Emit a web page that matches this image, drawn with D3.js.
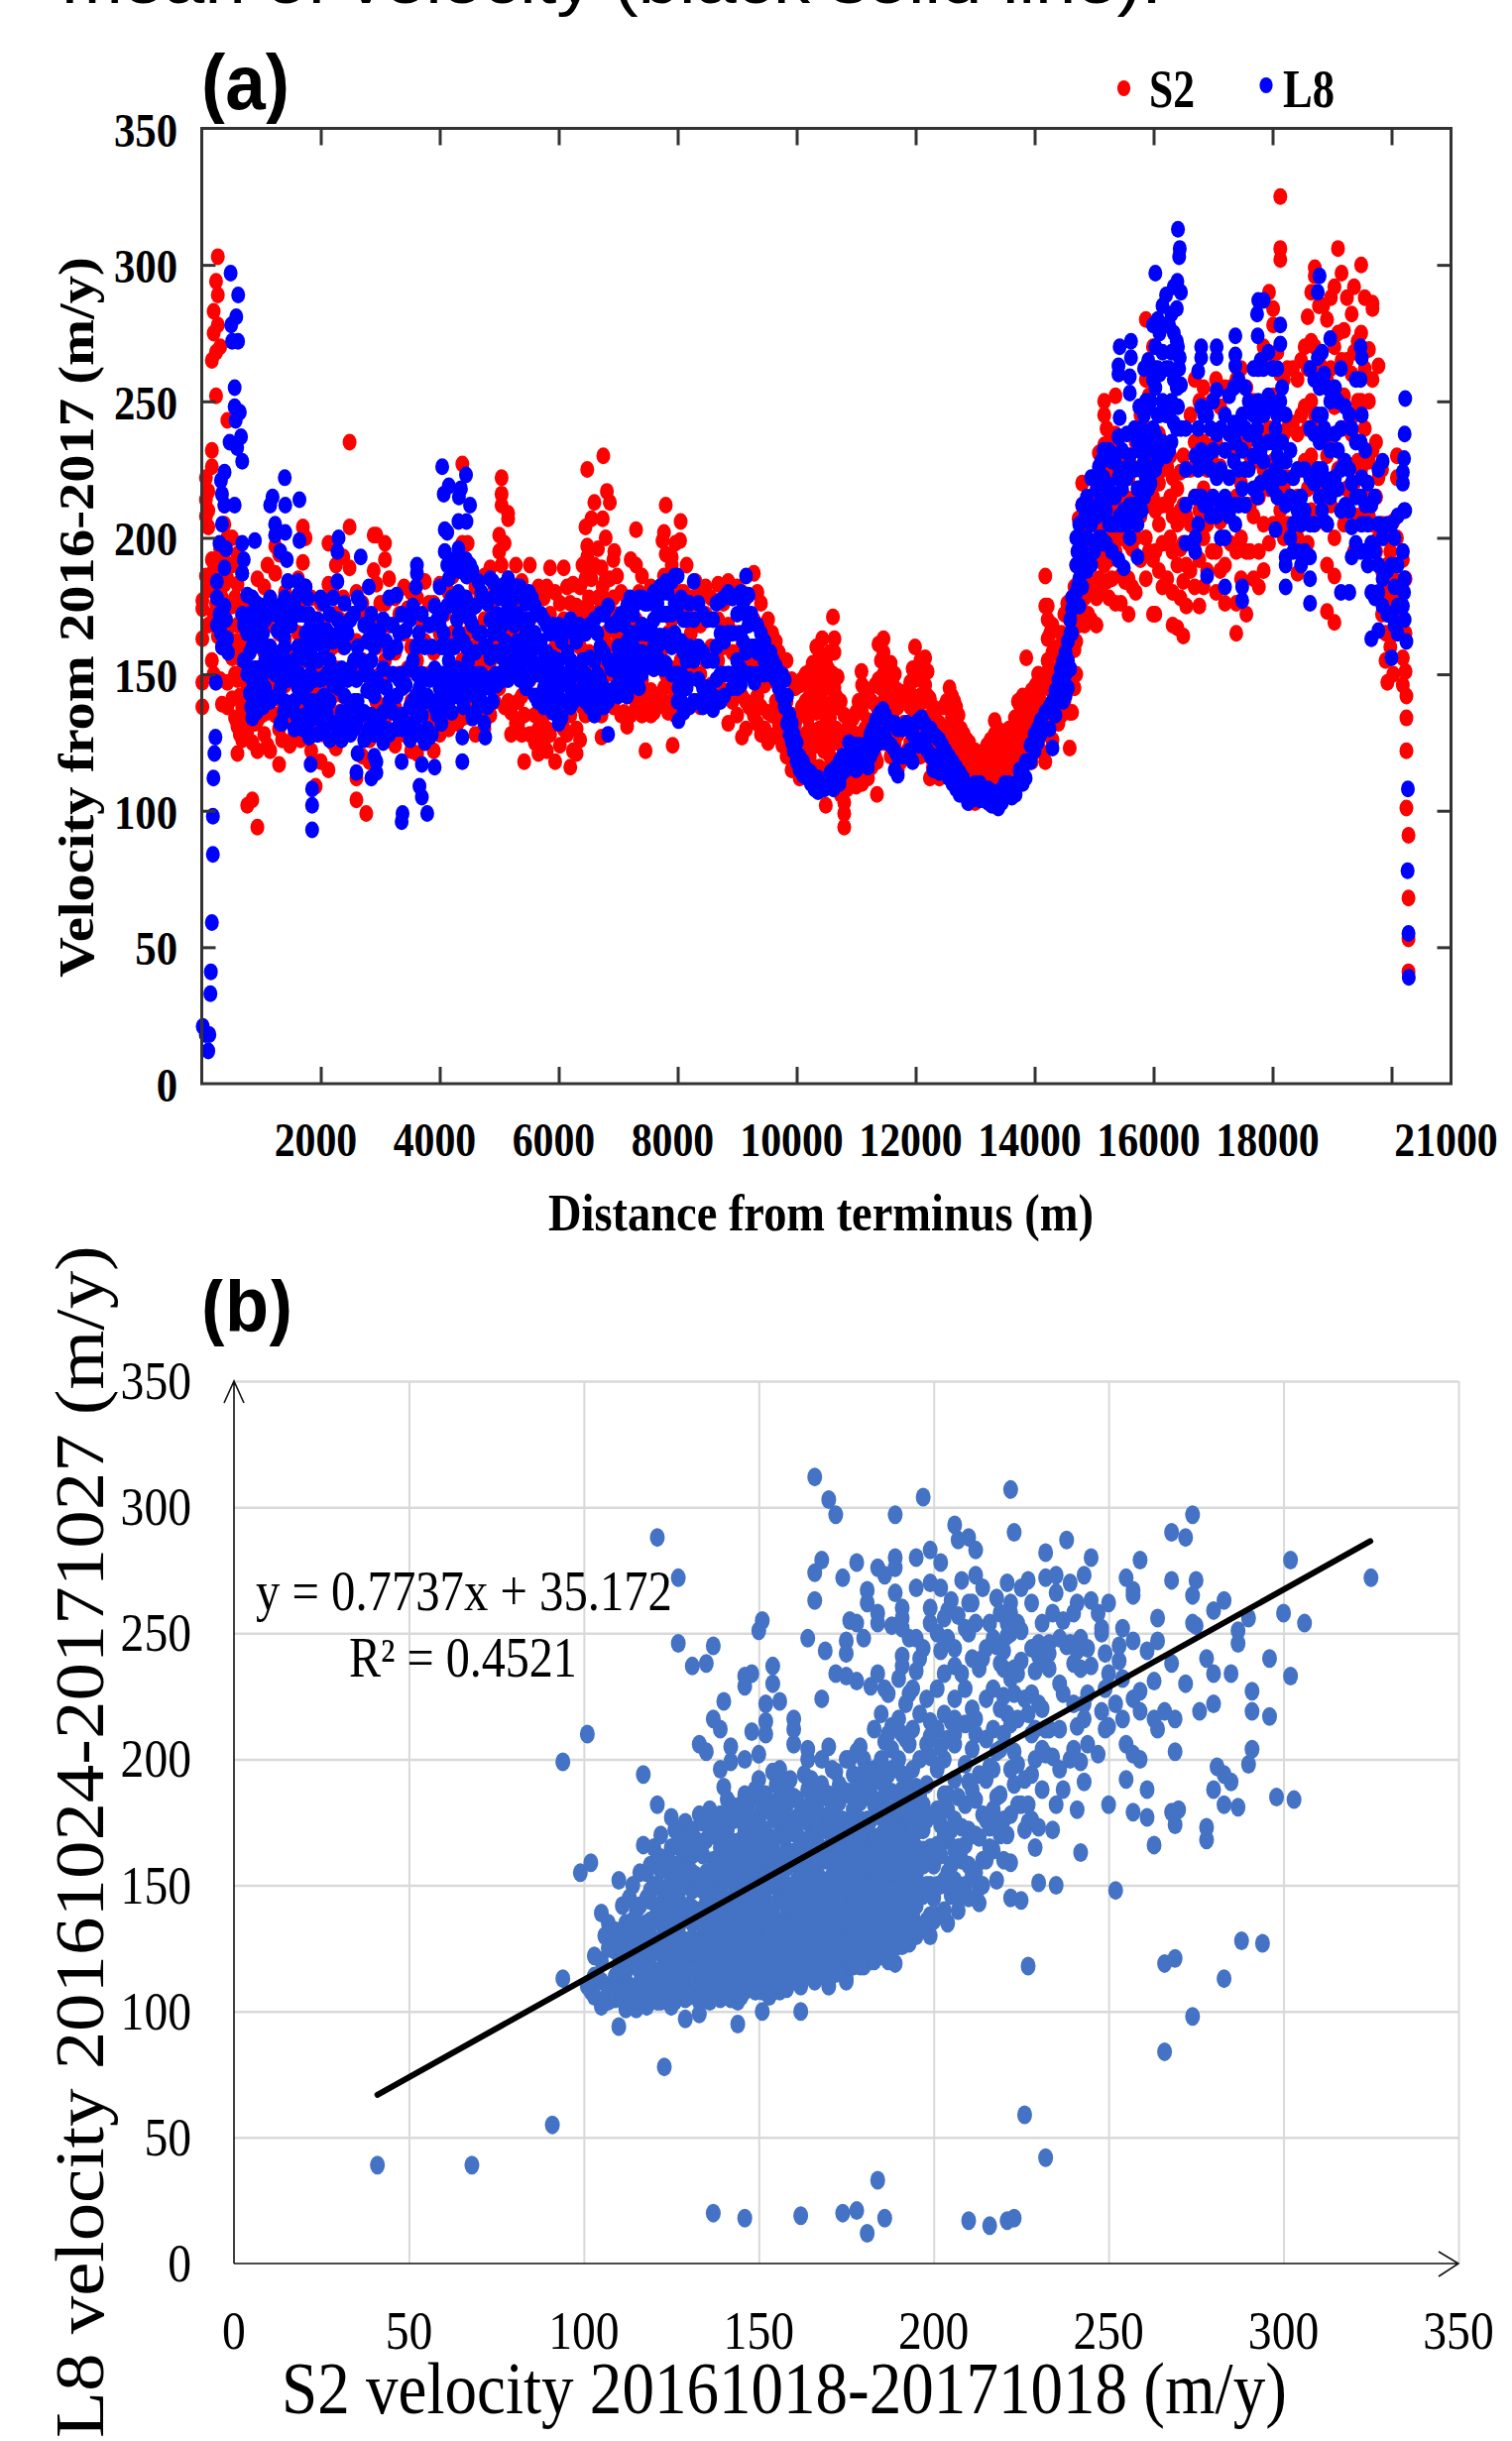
<!DOCTYPE html>
<html>
<head>
<meta charset="utf-8">
<script src="https://cdn.jsdelivr.net/npm/d3@7"></script>
<style>
  html, body { margin: 0; padding: 0; background: #fff; }
  svg { display: block; }
</style>
</head>
<body>
<svg id="chart" width="1525" height="2462"></svg>
<script>
/* --------------- panel (a) data: [distance, velocity, velocity, ...] --------------- */
const s2Columns = [
[10,138,147,163,174,177],[70,222,214,208,186],[110,217,210,204,181,168],[170,232,226,265,192,155],
[200,283,275,188,172,150],[240,294,268,252,176],[270,303,289,278,183,164],[310,270,196,170,148],
[340,193,178,160,139],[430,243,200,185,166,147,138],[510,200,190,175,156,141],[600,194,183,168,148,131,121],
[680,187,172,155,138,126],[765,178,163,146,129,102],[850,176,160,141,125,104],[935,185,170,152,133,122,94],
[1050,182,174,158,142,128],[1105,190,168,150,136,124],[1150,178,160,145,122],[1235,187,197,172,152,135],
[1300,194,165,148,130,117],[1400,180,163,146,133],[1550,176,158,140,127],[1620,185,165,147,130],
[1700,204,191,172,155,137],[1745,200,182,162,145,128],[1840,178,160,140,122],[1915,170,150,130,109],
[2000,176,155,135,118],[2130,198,183,165,147,130,115],[2255,190,172,152,135,123],[2380,193,178,160,142,128],
[2485,235,204,189,170,150,132],[2600,180,162,140,112,104],[2700,176,155,135,120],[2765,172,150,128,99],
[2890,188,201,168,146,130],[2935,201,183,160,140],[3080,198,192,176,155,132],[3150,185,168,150,128],
[3250,178,158,138,124],[3400,182,165,148,128],[3520,180,160,140,122],[3620,178,155,135,121],
[3750,184,162,142,125],[3900,176,158,136,122],[4000,183,165,145,128],[4150,180,160,140,130],
[4300,192,170,150,132],[4380,227,198,178,155,134],[4470,198,186,165,143],[4600,182,160,140,128],
[4750,186,170,150,130],[4850,189,175,155,135],[5000,201,195,182,165,145],[5040,222,216,212,190,170,150],
[5090,198,178,158,138],[5150,209,207,185,165,140],[5280,190,172,150,132],[5320,178,158,140,132],
[5420,176,155,135,118],[5515,190,170,148,128],[5660,182,160,142,130,121],[5750,178,158,135,125],
[5855,189,172,150,128],[5940,180,160,140,118],[6085,189,170,148,130],[6195,176,155,135,116],
[6240,183,165,145,122],[6300,175,152,130,121],[6450,204,185,165,145,135],[6480,225,197,193,175,150],
[6510,190,178,158,140],[6550,207,185,168,145],[6600,213,190,172,150],[6720,189,175,155,135,127],
[6740,207,182,160,140],[6750,230,178,150],[6790,200,185,165,140],[6810,217,176,150],[6860,213,185,160,142],
[6920,192,178,155,138],[6935,195,172,150],[7050,180,165,148,135],[7150,178,160,142,131],[7210,192,172,150,135],
[7300,203,190,170,150,138],[7400,186,168,148,135],[7460,178,155,140,122],[7550,182,162,144,135],
[7660,180,160,142,138],[7745,199,180,155,140],[7770,202,186,160,145],[7800,212,194,172,150],
[7900,193,190,170,152,140],[7915,185,165,145,124],[7960,198,175,150,135],[8040,199,180,160,142],
[8050,206,176,155],[8150,190,172,150,138],[8300,184,176,160,140],[8470,182,172,155,142],[8680,183,170,155,140],
[8850,184,168,150,132],[9000,182,165,148,135],[9080,180,160,142,127],[9150,178,158,140,130],[9280,187,170,152,135],
[9400,176,155,138,128],[9520,170,150,136,125],[9590,165,148,135,127],[9700,158,145,132],[9830,155,140,128,120],
[9915,148,135,125,115],[9975,145,132,115],[10050,146,135,122,112],[10150,150,140,128,118],[10220,151,142,130,120],
[10330,160,148,136,124,112],[10430,163,152,140,128,110],[10490,155,145,132,115,102],[10560,158,146,134,120],
[10610,171,150,140,125],[10635,163,158,145,130],[10690,149,138,125,112],[10800,135,128,118,103,99,94],
[10900,132,125,118,112],[11000,136,128,118,109],[11090,151,140,128,115],[11100,146,136,125,110],
[11200,142,133,122,112],[11350,138,125,118,106],[11375,161,148,135],[11417,155,145,132],[11460,163,158,150,140,125],
[11580,154,146,135,120],[11650,150,140,125],[11700,144,138,128,115],[11800,140,132,120],[11910,147,138,125],
[11990,160,148,136,125],[12080,155,142,132,120],[12160,156,146,134,122],[12200,151,142,130],[12240,141,132,120,112],
[12330,136,128,118],[12400,132,122,112],[12470,138,128,118],[12570,145,138,128,118],[12650,140,132,122],
[12720,135,125,116],[12810,128,120,112],[12900,125,118,110,103],[13000,122,115,108,103],[13100,120,113,106],
[13200,124,116,110],[13330,133,128,120,112],[13420,128,122,114],[13520,128,120,114],[13620,130,122,116],
[13720,140,134,126,118],[13800,142,135,126],[13860,156,140,130,120],[13950,144,135,126,118],[14020,146,138,128],
[14100,146,140,130,122],[14180,186,175,150,135,118],[14220,175,170,163,155,145,130],[14300,168,158,148,136,126],
[14400,160,152,142,132],[14500,172,160,150,140],[14590,170,158,148,136,123],[14630,178,165,147,136],
[14670,182,175,159,145],[14740,207,195,180,168],[14800,220,212,198,185,172],[14840,200,190,178,168],
[14950,205,195,182,170],[15040,218,205,192,178,168],[15080,231,215,200,185],[15170,250,245,234,218,205,190],
[15250,235,222,208,192,178],[15360,252,238,225,210,195,176],[15450,228,215,200,186,176],[15580,222,210,198,185,172],
[15700,235,215,200,180],[15870,280,258,240,220,200,185],[15990,270,235,215,192,172],[16030,262,230,210,195,172],
[16150,225,212,198,182],[16320,222,208,195,180,168],[16400,218,205,190,167],[16500,230,212,198,184,164],
[16550,225,208,190,175],[16690,258,235,215,198,182],[16770,250,228,210,192,175],[16900,245,225,205,188],
[17050,258,235,212,195,180],[17200,255,232,210,190,176],[17390,258,235,215,195,176,165],[17560,255,235,212,195,172],
[17680,250,228,208,185],[17770,262,238,215,195,182],[17940,290,265,240,218,198],[18010,284,278,252,228,205],
[18130,325,306,302,260,235,210],[18250,262,240,222,205],[18420,258,238,215,200,187],[18480,265,245,225,205],
[18590,281,262,240,218,198],[18710,299,296,270,245,225,205],[18850,285,262,240,222],[18915,280,258,230,205,190,173],
[19040,292,270,248,222,200,186,169],[19100,306,275,250,225],[19160,297,265,240,210],[19200,276,252,228,205],
[19330,282,260,238,215],[19370,292,268,245,220,195],[19490,300,275,250,225,205],[19620,269,250,228,208],
[19680,286,284,258,232,205],[19740,235,215,195],[19780,263,222,200],[19900,200,180,165,155],[19930,190,172,147],
[20030,206,185,165,150],[20090,230,222,200,178],[20190,192,170,156,146],[20235,185,165,151],[20250,142,134,122,101],
[20285,91,68,53,41]
];

// second pass over the solid parts of the red cloud
const s2Dense = [
[380,212,205,192,183],[560,178,162,150,134],[640,176,160,142,128],[730,165,150,134],[900,168,148,132],[1010,165,150,135],
[1350,172,155,140,126],[1480,170,150,136,124],[1660,176,156,138,126],[1880,165,145,128,118],[2060,168,148,128],
[2200,180,160,142,125],[2320,170,150,136],[2550,172,152,130],[2820,166,145,126,118],[3000,176,150,134],[3320,172,150,130],
[3460,174,152,132],[3680,170,148,128],[3820,176,150,132],[4080,172,150,134],[4220,186,165,142],[4540,174,152,134],
[4680,178,155,135],[4920,182,160,140],[5200,180,158,136,128],[5380,184,165,142,128],[5600,176,150,135,125],
[5800,182,155,130,122],[6020,176,150,132,124],[6140,182,160,128],[6360,182,160,140,126],[6400,190,172,150,138],
[6660,196,178,158,136],[6980,186,165,145],[7100,172,152,136],[7350,180,160,142],[7600,176,152,136],[7840,186,165,148,136],
[8100,180,160,146],[8220,178,165,150],[8380,180,168,150,138],[8560,178,160,146],[8770,176,160,144],[8920,178,158,140],
[9200,172,155,138],[9340,180,160,142,132],[9460,165,146,130],[9650,162,140,128],[9760,150,136,124],
[10090,148,138,126,116],[10190,146,134,122],[10270,154,138,126,116],[10380,158,144,130,116],[10460,150,136,122],
[10530,152,138,126,112],[10660,142,130,118],[10740,140,128,114,106],[10850,130,120,108],[10950,134,122,114],
[11040,140,126,112],[11150,144,130,118],[11260,140,128,116],[11320,146,130,120],[11520,150,142,128],[11620,146,136,122],
[11750,142,130,118],[11860,144,132,122],[11950,152,142,130],[12040,150,138,126],[12120,152,140,128],[12290,138,126,116],
[12520,140,130,120],[12610,142,134,124],[12680,138,128,118],[12760,130,122,114],[12860,126,116,108],[12950,120,112,106],
[13050,118,110],[13150,122,114,108],[13260,126,118,110],[13380,130,122,114],[13470,126,118],[13570,130,122,116],
[13670,134,126,118],[13760,138,130,122],[13900,142,134,124],[14060,150,142,132,124],[14140,148,138,128],[14260,165,150,138],
[14350,158,146,136],[14450,165,155,145,135],[14550,176,162,150],[14700,190,176,162,150],[14780,205,190,175],
[14900,212,198,184,172],[15000,208,195,182],[15120,222,208,195,180],[15210,240,226,212,198,184],[15300,232,215,200,185],
[15400,236,222,208,192],[15520,230,215,200,184],[15640,226,212,196,182],[15780,245,225,208,192],[15920,252,230,212,195],
[16090,238,220,205,188],[16230,226,212,198,185],[16280,230,215,200],[16450,224,210,196,178],[16620,245,225,205,188],
[16840,255,235,218,200,182],[16980,250,230,212,195],[17120,248,226,206,188],[17290,255,232,212,198],[17470,262,240,220,200,185],
[17620,248,230,212,195],[17850,270,245,225,205,188],[18080,268,245,225,205],[18190,258,238,218,200],[18340,262,242,222,205],
[18540,270,248,228,208],[18650,290,272,250,230,210],[18780,285,265,240,218],[18980,288,262,235,212],[19250,288,265,240,218],
[19430,272,250,228,208],[19550,288,262,240,215],[19840,225,205,188,172],[19980,195,178,160]
];

const l8Columns = [
[17,21],[68,18],[110,12],[128,18],[145,33],[153,41],[170,59],[187,84,98],[196,112],[213,121],[230,127],
[238,147],[255,168,178,184],[298,198,172],[323,221,165],[340,216,205,160],[383,224,212,189,175],[408,196,170],
[425,163],[442,158],[468,235],[485,297],[495,278],[510,272],[553,255,248,212],[570,243],[580,281],[595,233],
[610,272],[612,289],[640,246],[660,237],[680,228,198,187,172],[706,192,168,155],[765,179,165,150],
[808,172,158,143],[850,178,160,148,134],[893,199,170,152,140],[960,168,152,140],[1000,175,160,146],
[1064,170,155,145],[1150,212,178,160,140],[1190,215,175,155],[1233,205,201,172,150],[1320,195,175,158,145,132],
[1345,170,152,132],[1395,222,178,160,140],[1404,212,202,175,155],[1430,192,170,150],[1447,184,168,148],
[1557,175,155,140,130],[1617,184,179,160,145],[1642,214,199,172,150],[1745,182,165,148,135],[1804,172,155,140,127],
[1830,168,150,135,117],[1855,108,102,93,160,140],[1950,170,155,140,128],[2050,176,160,142,130],[2150,172,155,140,126],
[2280,195,184,170,150,132],[2300,200,165,145,128],[2400,176,160,142,130],[2500,170,152,138,128],
[2600,114,148,132],[2620,178,160,140,121],[2672,193,176,155,135],[2808,182,168,150,130],[2850,172,155,135,112],
[2935,165,148,130,118,114],[3050,170,152,136,125],[3150,178,158,140,128],[3276,179,160,142,130],
[3360,172,150,135,118,96],[3375,99,145,130],[3500,170,152,138,126],[3600,182,160,142,130],[3617,190,187,150,135],
[3660,109,145],[3700,172,150,135,117,105],[3790,99,142,130],[3830,168,148,127],[3915,175,152,138,116],
[4000,182,168,145,135],[4042,226,172,150],[4068,216,165,145],[4085,203,195,160,140],[4127,202,190,175,150],
[4153,219,185,155,140],[4250,192,175,160,148],[4315,206,196,180,150],[4323,215,188,165,145],[4357,218,190,172,148],
[4380,127,118],[4442,223,192,178,152],[4450,206,186,160,142],[4510,212,190,170,150],[4550,188,168,150,134],
[4650,184,165,150,140],[4750,178,160,145,132],[4765,127],[4893,184,165,148,140],[4936,179,170,150],[5000,178,165,150],
[5150,185,175,160,148],[5250,178,168,155,150],[5350,182,170,158,148],[5450,176,165,155,145],[5550,178,165,155],
[5650,172,160,150,140],[5750,170,155,145,138],[5850,165,152,142],[6000,168,155,145,132],[6100,166,150,140],
[6200,170,155,145,138],[6350,168,152,142],[6450,165,150,140],[6600,170,155,143,135],[6700,172,160,148,140],
[6830,175,155,140,128],[6950,168,155,145],[7050,172,158,148],[7150,175,162,150,142],[7250,172,160,150],
[7350,178,165,155,145],[7450,176,165,155],[7550,178,168,158],[7660,176,172,160],[7750,180,172,162,152],
[7830,180,172,162],[7950,186,176,165,150],[8000,186,175,150,140],[8015,133,145],[8150,170,155,145],
[8270,184,170,155,140],[8425,172,158,145,138],[8595,170,155,142,137],[8720,177,165,150,140],[8850,180,165,150],
[9000,172,155,145],[9150,186,172,158],[9190,179,168,150],[9290,160,147],[9400,165,158,150],[9520,158,152],
[9600,155,150],[9700,150,145],[9800,148,138],[9880,135,128],[9950,128,122],[10050,120,115],[10180,115,112],
[10300,112,108],[10420,110,108],[10520,112,110],[10620,115,112,108],[10720,118,112,110],[10820,120,115],
[10880,125,118],[11000,124,120,115],[11100,122,118],[11200,125,116],[11280,130,122],[11380,135,125],[11450,137,128],
[11530,133,125],[11650,132,122,115],[11700,130,120,113],[11780,130,120],[11900,130,122],[11950,128,118],
[12000,132,125],[12100,134,126],[12200,130,122],[12300,128,120,115],[12400,126,118,114],[12500,122,115],
[12620,118,110],[12800,112,106],[12880,108,103],[13000,110,105],[13150,108,104],[13280,107,102],[13390,103,101],
[13500,110,105],[13620,105,108],[13750,112,115],[13850,118,112],[14000,128,122],[14100,133,128],[14250,138,130],
[14300,140,123],[14400,148,142],[14480,155,150,140],[14560,162,155,145],[14600,170,165,152],[14630,178,174,165],
[14700,200,190,180],[14750,205,195,185,175],[14800,212,195,182],[14880,215,200,188],[14950,222,205,190],
[15050,218,208,198],[15120,228,215,200],[15200,232,220,210,198],[15300,228,215,205,195],
[15410,263,260,237,222,205,192],[15430,270,244,225,208],[15500,225,210,189],[15600,253,259,230,212,200],
[15620,272,266,225,208],[15730,235,218,193,205],[15800,240,225,210],[15870,250,235,222],[15950,262,250,235,220],
[16030,297,270,255,238,225],[16100,275,260,245,232],[16210,289,278,262,245,230],[16300,282,268,250,235],
[16390,284,272,255,240],[16410,313,270,248],[16430,303,262],[16440,306,266],[16400,294,255],[16460,290,256,240],
[16540,240,212,198,225],[16700,230,215,200,195],[16750,261,240,225,205],[16800,270,266,248,232,215],
[16900,245,230,212,186],[17060,270,266,254,238,222,208],[17200,245,232,215,200,182],[17350,255,242,228,212],
[17375,274,267,263,235,205],[17490,245,232,218,182,177],[17600,250,238,225],[17750,274,262,245,230,215],
[17760,287,250,235],[17850,287,262,245,228],[17740,282,240],[18000,262,248,235,218],[18130,278,271,250,235,222],
[18050,203,240,225],[18220,245,228,212,193,190,182],[18350,222,205,195],[18420,225,210,195],[18480,215,205,190],
[18630,262,240,222,205,193,185,176],[18760,290,266,245,225],[18790,296,255,235,215],[18870,260,240,222,206],
[18970,273,250,232,215],[19050,255,238,222],[19150,262,240,225,210,180],[19290,245,225,210,180],[19330,240,220,204,193],
[19480,270,258,235,215,195],[19500,266,245,222,205],[19600,220,205,190],[19660,212,198,180,163],
[19780,225,205,190,180,166],[19850,228,200,185,175],[20000,205,190,172,156],[20100,208,190,175,165],
[20190,224,220,195,175],[20210,229,210,180],[20220,238,185,170],[20230,251,210],[20250,162],[20275,108],[20270,78],
[20285,55],[20290,39]
];

// second pass over the solid blue band
const l8Dense = [
[830,166,152,138],[920,176,162,146,136],[1030,165,150,138],[1110,172,152,142],[1270,166,154,142],[1380,164,148,136],
[1500,168,150,138],[1590,172,150,135],[1700,172,156,142,130],[1780,178,160,146,132],[1900,164,148,134],[2000,178,165,148,135],
[2100,166,150,136],[2210,178,162,146,132],[2350,168,152,136,126],[2450,165,148,134],[2560,172,155,140,130],[2730,168,150,136,126],
[2780,162,144,128],[2900,160,142,128,120],[2990,166,146,132],[3100,162,145,130],[3210,168,150,136],[3320,165,148,132],
[3430,166,146,132],[3550,175,155,140,130],[3650,165,140,128],[3750,160,140,125],[3870,160,140,128],[3960,170,150,135],
[4030,160,142,132],[4200,178,160,146,136],[4290,170,152,142],[4400,178,162,146,138],[4480,175,155,145],[4600,175,158,145,136],
[4700,180,165,150,140],[4800,176,160,148,138],[4850,185,170,156,145],[4960,172,158,146],[5050,180,168,156,148],[5100,183,172,162,152],
[5200,180,170,160,150],[5300,182,172,162,152],[5400,180,170,160,150],[5500,180,170,160,148],[5600,175,165,152,142],
[5700,172,162,150,140],[5800,168,158,148,138],[5900,168,156,146,136],[5950,165,150,138],[6050,162,150,140,134],[6150,168,158,146],
[6250,165,152,140],[6300,162,150,142],[6400,165,155,145],[6520,168,156,146,138],[6650,165,150,140],[6760,172,158,145,138],
[6880,168,152,142],[7000,170,160,150,142],[7100,168,155,146],[7200,178,165,155,146],[7300,176,165,155,148],[7400,178,168,158,150],
[7500,176,165,155],[7600,180,170,160,152],[7700,182,172,164,155],[7800,184,172,164,154],[7900,184,172,160,150],[8060,178,162,150,140],
[8100,170,158,146,136],[8200,176,160,148,138],[8350,176,160,148,140],[8500,170,155,145,140],[8650,176,160,148,140],[8780,178,162,150,142],
[8920,178,165,150,145],[9060,180,165,152,146],[9100,176,162,150],[9240,172,160,150],[9340,168,158,150],[9460,162,155,150],
[9560,158,150],[9650,153,148],[9750,150,142],[9840,142,132],[9920,132,125],[10000,125,118],[10110,118,113],[10240,114,110],
[10360,112,107],[10470,110,108],[10570,114,110],[10670,116,110],[10770,120,114],[10930,124,116],[11050,124,117],[11150,124,118],
[11240,128,120],[11330,133,124],[11410,136,128],[11490,135,127],[11590,132,124],[11850,132,120],[12050,133,124],[12150,132,124],
[12250,130,120],[12350,127,118],[12450,124,116],[12560,120,112],[12680,116,108],[12740,114,106],[12940,108,104],[13080,110,104],
[13220,108,103],[13330,106,102],[13450,108,103],[13560,110,106],[13680,110,106],[13800,115,110],[13930,124,118],[14050,130,125],
[14180,136,130],[14350,144,135],[14440,152,145],[14520,158,150,142],[14720,195,182],[14850,208,192],[15000,222,210,195],
[15080,226,212,200],[15160,232,222,210,198],[15250,232,218,205],[15350,228,215,205],[15470,232,218,205],[15550,238,222,205],
[15680,240,225,212],[15760,248,232,218],[15840,262,245,228,215],[15910,265,248,232,218],[15990,278,258,240,225],[16070,280,262,245,228],
[16150,285,268,250,235],[16260,278,262,245,232],[16340,292,275,258,242],[16850,245,228,212],[16960,240,225,208],[17000,250,232,215],
[17130,240,225,212,200],[17270,252,238,222,208],[17430,258,240,225,212],[17540,255,240,225,212],[17680,262,245,230,218],[17800,265,248,232,220],
[17930,268,252,235,222],[18080,262,245,230,215],[18160,255,235,222],[18300,232,215,200],[18540,225,210,195],[18700,258,238,220,205],
[18830,268,245,225,210],[18920,255,238,220,205],[19100,250,232,218],[19220,248,228,212],[19400,258,235,215,198],[19560,232,212,195],
[19720,215,195,178],[19930,205,188,172],[20050,200,182,168]
];

/* --------------- panel (b) data: [S2 velocity, L8 velocity, L8 velocity, ...] --------------- */
const pairColumns = [
[41,39],[68,39],[91,55],[94,113,199],[99,155],[101,210,110],[102,159,108],[105,102,139,112,120],[106,130,105],
[110,152,94,108,118,128],[112,101,112,122,135],[115,140,101,110,120,130],[117,166,194,103,114,125],
[118,145,155,102,120,135],[121,288,182,160,150,140,128,116,104],[123,78,146,135,122,110],
[125,177,165,152,138,125,112,102],[127,272,246,170,158,146,132,120,108],[129,175,160,150,97,138,128,115,105],
[131,237,172,162,148,135,122,110],[133,99,206,178,165,152,140,128,115,104],[135,238,203,168,155,143,130,118,108],
[137,245,216,20,176,160,148,135,122,110],[139,212,196,178,165,152,140,128,115,105],[140,223,189,170,158,145,132,120,108],
[142,205,199,182,165,152,140,128,115,105],[144,95,178,165,152,140,128,115,104],[146,233,229,200,18,186,172,160,146,134,120,108],
[148,211,184,170,158,145,132,120,110,234],[150,251,202,192,176,164,150,138,125,112],[151,255,100,182,170,158,145,132,120,108],
[152,222,215,210,186,172,160,148,135,122,110],[154,237,230,195,178,165,152,140,128,115,108],[156,223,196,182,170,158,146,134,122,113,108],
[158,190,176,164,150,138,126,114,109],[160,216,212,206,185,172,160,148,136,124,114],[162,100,110,178,165,152,140,128,118,19],
[164,248,204,200,188,175,162,150,138,126,115],[166,312,274,263,182,170,158,146,134,122,112],[168,279,224,200,190,176,164,150,138,126,116],
[169,243,185,172,160,148,136,124,116],[170,303,205,178,165,152,140,128,116,110],[172,297,234,195,182,170,158,146,134,122,115],
[174,272,20,188,176,164,150,138,126,118],[175,247,242,233,200,170,158,146,134,122,113,112],[176,255,187,200,164,152,140,128,118],
[178,278,254,231,203,183,170,158,146,134,122,21],[180,248,200,195,185,172,160,148,136,124,118],[181,267,262,12,176,164,152,140,128],
[182,229,186,170,158,146,134,122,120],[184,276,258,254,234,33,196,178,165,152,140,128,124],[186,273,228,207,190,172,160,148,136,126,18],
[188,253,204,213,196,176,164,152,140,128],[189,280,276,297,266,180,168,156,144,132,119],[191,260,256,252,241,237,210,188,174,162,150,138,126],
[193,248,226,206,182,170,158,146,134,127],[195,280,268,248,235,189,165,178,154,142,130],[197,304,244,182,164,172,158,146,134],
[199,283,270,254,260,215,209,201,165,150,138,130],[200,158,178,145,136],[202,278,268,243,205,174,162,150,138],
[204,259,248,208,186,180,168,155,135],[205,263,215,172,158,146],[206,293,237,216,210,152,164],[207,287,257,185,165,145,140],
[208,271,234,173,160,148],[210,262,288,250,191,17,172,158,145],[212,283,273,254,216,210,184,170,155],[213,236,194,169,149,143],
[214,268,240,178,160,150],[216,254,197,173,15,165],[218,264,245,203,185,176,152],[220,243,236,225,210,176,160],
[221,270,254,218,249,17,170],[222,307,262,258,159,145],[223,290,236,226,190,203,18],[225,268,251,239,182,144],
[226,59,224,192,172],[227,118,271,218,182,175],[229,235,212,200,165],[230,222,246,241,173,151],[232,282,272,42,202,212],
[233,246,242,236,212],[234,258,172,201],[235,273,266,182,150],[237,255,226,188],[238,287,245],[239,270,246,200],
[241,262,243,213,180],[242,248,236,199,163],[243,273,222,216,191],[245,263,237,280],[247,258,202],[248,252,219,250],
[250,262,234,213,182],[252,148,222],[253,239,245],[255,272,206,192],[257,267,265,247,224,202,179],[259,279,227,219,200],
[261,243,188,177],[263,216,231,166],[264,256,247,212],[266,119,84,219],[268,290,238,179,271],[269,121,174,203,216],
[270,180],[272,288,230],[274,297,265,254,98],[275,253,271],[276,219],[278,240,173,168],[280,234,222,259,188],[281,197],
[283,263,194,182,113],[285,234,191],[287,251,246,181],[288,128],[290,256,198],[291,227,219,204],[294,127],[296,240,217],
[298,185],[300,258],[302,279,233],[303,184],[306,254],[325,272]
];

// second pass over the solid core of the scatter, offset from the first
const pairDense = [
[103,106,114,122],[107,110,125,135,104],[109,105,114,124,132],[111,106,116,128,142],[113,104,118,132,145],[114,108,124,136,150],
[116,106,116,128,142,155],[119,108,118,130,144,158],[120,106,124,136,150,165],[122,104,116,128,142,156,170],[124,106,118,130,144,160],
[126,104,116,130,144,158,172],[128,110,122,136,150,164],[130,106,116,128,142,156,170],[132,112,124,138,154,168],[134,108,120,134,148,162,175],
[136,104,114,126,140,154,170,180],[138,110,122,134,146,160,174],[141,106,118,130,142,156,172,184],[143,110,122,134,146,160,176],
[145,106,116,128,140,154,168,182],[147,112,126,138,152,166,178],[149,108,116,128,142,156,172,188],[153,106,118,130,142,154,168,182],
[155,112,124,136,150,162,176,190],[157,110,120,132,144,156,170,186],[159,112,122,134,146,160,174,192],[161,112,122,134,146,158,170,184],
[163,114,124,136,148,162,176,194],[165,114,128,140,154,166,178,192],[167,114,124,136,148,160,172,186],[171,118,130,142,154,168,180,196],
[173,116,128,140,152,164,176,190],[177,118,130,142,156,168,180,194],[179,118,128,140,152,164,176,190,205],[183,120,132,144,156,168,182,196,212],
[185,122,134,146,158,170,184,200,218],[187,120,130,142,154,166,180,194,210,226],[190,126,136,148,160,172,186,200,216,232],[192,128,142,154,166,178,192,208,222],
[194,132,144,156,168,180,196,212,228],[196,134,148,160,172,186,200,218,240],[198,136,150,162,176,190,206,224],[201,138,150,166,180,196,212,228,250],
[203,140,152,170,186,200,218,234,256],[206,148,160,176,192,206,224,244],[209,150,166,182,198,214,228,252],[211,154,170,188,204,220,240,262],
[215,160,176,192,208,224,244],[217,164,180,196,212,228,248],[219,170,186,204,220,238,258],[222,178,196,214,232,250],[224,182,198,216,234,254],
[228,176,194,210,226,244,262],[231,188,204,220,238,254],[236,196,212,230,248],[240,204,222,238,258],[244,206,226,244],[249,212,228,242],[254,216,232,252]
];

// third pass, only the part of the cloud that shows as one solid patch
const pairCore = [
[112,108,116,126],[116,111,122,134],[119,113,124,136,148],[122,112,123,135,149,161],[125,108,119,131,145,158],[128,113,127,141,155,168],
[131,116,129,141,155,167],[134,113,125,139,153,167],[137,115,128,142,156,170],[140,113,125,138,151,164,176],[143,116,128,140,153,167,180],
[146,113,125,139,153,166,178],[149,113,123,135,149,163,177],[152,115,127,141,153,167,180],[155,117,130,143,156,169,183],[158,117,131,144,157,170,182],
[161,117,128,140,152,164,177],[164,119,132,144,156,168,181],[167,119,130,142,154,166,179],[170,122,134,146,160,173,186],[173,122,134,146,158,170,183],
[176,123,135,149,161,174,186],[179,123,134,146,158,170,183],[182,126,138,150,162,176,190],[185,127,140,152,164,177,191],[188,124,136,148,160,172,187],
[191,132,144,156,168,180,194],[194,138,150,162,174,188]
];

const distTicks = [2000, 4000, 6000, 8000, 10000, 12000, 14000, 16000, 18000, 20000];
const distLabels = [2000, 4000, 6000, 8000, 10000, 12000, 14000, 16000, 18000, 21000];
const velTicks = [0, 50, 100, 150, 200, 250, 300, 350];
const fitLine = [[41, 66.9], [324.8, 286.5]];
const legendItems = [["S2", "#ff0000"], ["L8", "#0000ff"]];

const serif = "'Liberation Serif', 'Times New Roman', serif";
const sans = "'Liberation Sans', Arial, sans-serif";

const svg = d3.select("#chart");
const defs = svg.append("defs");

// the reference was stretched, so every text is squeezed to the width it has there
function label(txt, o) {
    const t = svg.append("text")
        .attr("font-family", o.family || serif)
        .attr("font-weight", o.weight || "normal")
        .attr("font-size", o.size)
        .attr("fill", "#000")
        .text(txt);
    const len = t.node().getComputedTextLength();
    const sx = o.width ? o.width / len : (o.sx || 1);
    const anchorShift = o.anchor === "end" ? -len * sx : o.anchor === "middle" ? -len * sx / 2 : 0;
    const rot = o.rotate ? ` rotate(${o.rotate})` : "";
    t.attr("transform", `translate(${o.x},${o.y})${rot} translate(${anchorShift},0) scale(${sx},1)`);
    return t;
}

function flatten(cols) {
    return cols.flatMap(([x, ...ys]) => ys.map(y => ({ x, y })));
}

/* --------------- panel (a) --------------- */
const xA = d3.scaleLinear().domain([0, 21000]).range([203.5, 1463.5]);
const yA = d3.scaleLinear().domain([0, 350]).range([1093, 129.5]);

const panelA = svg.append("g");

panelA.selectAll(".s2").data(flatten(s2Columns.concat(s2Dense))).enter().append("ellipse")
    .attr("class", "s2")
    .attr("cx", d => xA(d.x)).attr("cy", d => yA(d.y))
    .attr("rx", 7).attr("ry", 8.5)
    .attr("fill", "#ff0000");

panelA.selectAll(".l8").data(flatten(l8Columns.concat(l8Dense))).enter().append("ellipse")
    .attr("class", "l8")
    .attr("cx", d => xA(d.x)).attr("cy", d => yA(d.y))
    .attr("rx", 7).attr("ry", 8.5)
    .attr("fill", "#0000ff");

const axisColor = "#333";
panelA.append("rect")
    .attr("x", xA(0)).attr("y", yA(350))
    .attr("width", xA(21000) - xA(0)).attr("height", yA(0) - yA(350))
    .attr("fill", "none").attr("stroke", axisColor).attr("stroke-width", 3);

// ticks point inwards on all four sides
const axBottom = d3.axisBottom(xA).tickValues(distTicks).tickSize(-17).tickFormat("");
const axTop = d3.axisTop(xA).tickValues(distTicks).tickSize(-17).tickFormat("");
const axLeft = d3.axisLeft(yA).tickValues(velTicks.slice(1, 7)).tickSize(-14).tickFormat("");
const axRight = d3.axisRight(yA).tickValues(velTicks.slice(1, 7)).tickSize(-14).tickFormat("");
[[axBottom, 0, yA(0)], [axTop, 0, yA(350)], [axLeft, xA(0), 0], [axRight, xA(21000), 0]].forEach(([ax, tx, ty]) => {
    const g = panelA.append("g").attr("transform", `translate(${tx},${ty})`).call(ax);
    g.select(".domain").remove();
    g.selectAll("line").attr("stroke", axisColor).attr("stroke-width", 3);
});

distLabels.forEach(v => {
    label(v, { x: xA(v) - 5, y: 1166, size: 48, weight: "bold", anchor: "middle", sx: 0.87 });
});
velTicks.forEach(v => {
    label(v, { x: 179, y: yA(v) + 18, size: 48, weight: "bold", anchor: "end", sx: 0.89 });
});

label("Distance from terminus (m)", { x: 553, y: 1241, size: 52, weight: "bold", width: 550 });
label("Velocity from 2016-2017 (m/y)", { x: 94, y: 986, size: 50, weight: "bold", rotate: -90, width: 727 });

// legend
const legX = [1133.5, 1277], legY = [89, 86], legTx = [1159, 1294], legW = [46, 52];
legendItems.forEach(([name, col], i) => {
    svg.append("ellipse")
        .attr("cx", legX[i]).attr("cy", legY[i])
        .attr("rx", 6.6).attr("ry", 8)
        .attr("fill", col);
    label(name, { x: legTx[i], y: 107.5, size: 54, weight: "bold", width: legW[i] });
});

/* --------------- panel (b) --------------- */
const xB = d3.scaleLinear().domain([0, 350]).range([236, 1471]);
const yB = d3.scaleLinear().domain([0, 350]).range([2283, 1393]);

const panelB = svg.append("g");
const gridColor = "#d9d9d9";

panelB.append("g").attr("transform", `translate(0,${yB(0)})`)
    .call(d3.axisBottom(xB).tickValues(velTicks.slice(1)).tickSize(-(yB(0) - yB(350))).tickFormat(""))
    .call(g => g.select(".domain").remove())
    .selectAll("line").attr("stroke", gridColor).attr("stroke-width", 2);

panelB.append("g").attr("transform", `translate(${xB(0)},0)`)
    .call(d3.axisLeft(yB).tickValues(velTicks.slice(1)).tickSize(-(xB(350) - xB(0))).tickFormat(""))
    .call(g => g.select(".domain").remove())
    .selectAll("line").attr("stroke", gridColor).attr("stroke-width", 2.5);

panelB.selectAll(".pair").data(flatten(pairColumns.concat(pairDense, pairCore))).enter().append("ellipse")
    .attr("class", "pair")
    .attr("cx", d => xB(d.x)).attr("cy", d => yB(d.y))
    .attr("rx", 7.5).attr("ry", 9.5)
    .attr("fill", "#4472c4");

const fitPath = d3.line().x(d => xB(d[0])).y(d => yB(d[1]));
panelB.append("path")
    .attr("d", fitPath(fitLine))
    .attr("fill", "none").attr("stroke", "#000")
    .attr("stroke-width", 6).attr("stroke-linecap", "round");

// axes with open arrowheads
panelB.append("path")
    .attr("d", `M${xB(0)},${yB(0)} L${xB(0)},${yB(350)} M${xB(0) - 10},${yB(350) + 22} L${xB(0)},${yB(350)} L${xB(0) + 10},${yB(350) + 22}`)
    .attr("fill", "none").attr("stroke", "#111").attr("stroke-width", 1.6);
panelB.append("path")
    .attr("d", `M${xB(0)},${yB(0)} L${xB(350)},${yB(0)} M${xB(350) - 20},${yB(0) - 12} L${xB(350)},${yB(0)} L${xB(350) - 20},${yB(0) + 13}`)
    .attr("fill", "none").attr("stroke", "#111").attr("stroke-width", 1.6);

velTicks.forEach(v => {
    label(v, { x: 193, y: yB(v) + 18, size: 56, anchor: "end", sx: 0.85 });
    label(v, { x: xB(v), y: 2369, size: 56, anchor: "middle", sx: 0.85 });
});

label("y = 0.7737x + 35.172", { x: 258, y: 1624, size: 56, width: 420 });
label("R² = 0.4521", { x: 352, y: 1691, size: 56, width: 230 });
label("S2 velocity 20161018-20171018 (m/y)", { x: 284, y: 2434, size: 74, width: 1014 });
label("L8 velocity 20161024-20171027 (m/y)", { x: 104, y: 2459, size: 70, rotate: -90, width: 1203 });

/* --------------- headings, clipped like the cropped reference --------------- */
defs.append("clipPath").attr("id", "clipA").append("rect").attr("x", 190).attr("y", 53).attr("width", 120).attr("height", 72);
defs.append("clipPath").attr("id", "clipB").append("rect").attr("x", 190).attr("y", 1290).attr("width", 120).attr("height", 68);
svg.append("g").attr("clip-path", "url(#clipA)").node().appendChild(
    label("(a)", { x: 203, y: 110, size: 78, family: sans, weight: "bold", width: 89 }).node());
svg.append("g").attr("clip-path", "url(#clipB)").node().appendChild(
    label("(b)", { x: 203, y: 1343, size: 78, family: sans, weight: "bold", width: 92 }).node());

label("mean of velocity (black solid line).", { x: 62, y: 3, size: 66, family: sans, width: 1110 });
</script>
</body>
</html>
